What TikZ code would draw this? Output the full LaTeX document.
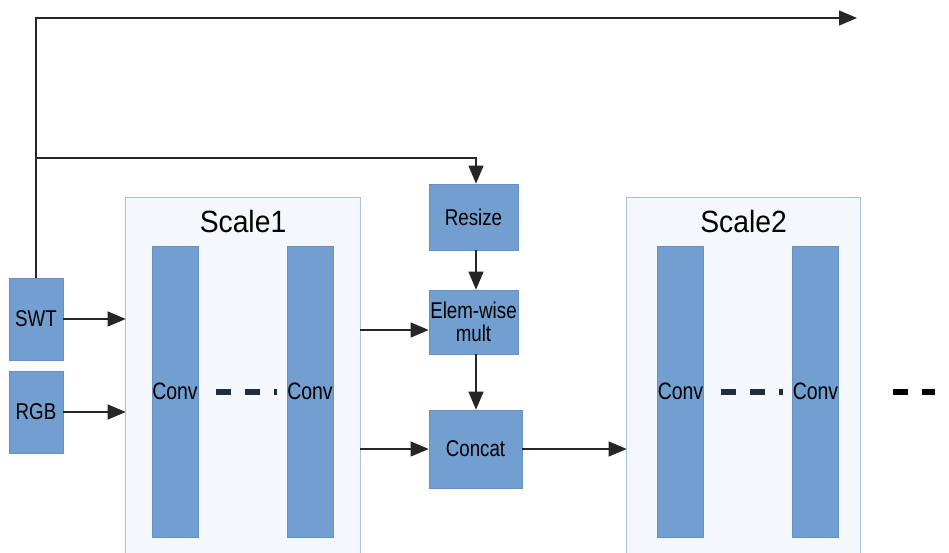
\documentclass[tikz,border=0pt]{standalone}
\usepackage{fontspec}
\setmainfont{Liberation Sans}[FakeStretch=0.92]
\newfontfamily\narrowfont{Liberation Sans}[FakeStretch=0.82]
\usetikzlibrary{arrows.meta,calc}

\begin{document}
\begin{tikzpicture}[x=0.02cm,y=-0.02cm,
    bloque/.style={draw=boxedge,fill=boxcolor,inner sep=0pt,align=center,
        font=\narrowfont\fontsize{13}{13}\selectfont},
    conv/.style={bloque,minimum width=0.92cm,minimum height=5.82cm,
        font=\narrowfont\fontsize{13.5}{14}\selectfont},
    escala/.style={fill=scalecolor,draw=none,inner sep=0pt,minimum height=7.1cm},
    titulo/.style={font=\fontsize{17.5}{20}\selectfont},
    flecha/.style={draw=linecolor,line width=0.6pt,-{Triangle[length=3.6mm,width=3mm]}},
    puntos/.style={line width=0.14cm,dash pattern=on 0.3cm off 0.28cm}]
    % Colores
    \definecolor{boxcolor}{HTML}{729FCF}
    \definecolor{boxedge}{HTML}{6391C6}
    \definecolor{scalecolor}{HTML}{F4F8FC}
    \definecolor{scaleedge}{HTML}{A7C1E2}
    \definecolor{dashcolor}{HTML}{1F2D3D}
    \colorlet{linecolor}{black!85}

    \useasboundingbox (0,0) rectangle (949,553);

    % Bloques de escala
    \node[escala,minimum width=4.68cm] (sA) at (243,375.5) {};
    \node[escala,minimum width=4.66cm] (sB) at (743.5,375.5) {};
    \foreach \s in {sA,sB}
    {
        \draw[scaleedge,line width=0.6pt] (\s.south west) -- (\s.north west)
            -- (\s.north east) -- (\s.south east);
    }
    \node[titulo] (tA) at (243,222) {Scale1};
    \node[titulo] (tB) at (743.5,222) {Scale2};

    % Capas de convolucion
    \foreach \x/\n in {175/a1,310/a2,680.5/b1,815.5/b2}
    {
        \node[conv] (conv\n) at (\x,391.5) {Conv};
    }
    \draw[puntos,dashcolor] (216,392) -- (277,392);
    \draw[puntos,dashcolor] (721,392) -- (783,392);
    \draw[puntos,black] (893,392) -- (935,392);

    % Entradas
    \node[bloque,minimum width=1.08cm,minimum height=1.64cm] (swt) at (36,319) {SWT};
    \node[bloque,minimum width=1.08cm,minimum height=1.64cm] (rgb) at (36,412) {RGB};

    % Bloques intermedios
    \node[bloque,minimum width=1.78cm,minimum height=1.32cm] (resize) at (473.5,217) {Resize};
    \node[bloque,minimum width=1.78cm,minimum height=1.28cm] (mult) at (473.5,322) {Elem-wise\\mult};
    \node[bloque,minimum width=1.86cm,minimum height=1.56cm] (concat) at (475.5,449) {Concat};

    % Conexiones
    \coordinate (salida) at (857,18);
    \coordinate (codo) at (36,158);
    \coordinate (m_in) at ([yshift=-1.6mm]mult.west);
    \draw[flecha] (swt.north) |- (salida);
    \draw[flecha] (codo) -| ([xshift=0.5mm]resize.north);
    \draw[flecha] (swt) -- (swt -| sA.west);
    \draw[flecha] (rgb) -- (rgb -| sA.west);
    \draw[flecha] (m_in -| sA.east) -- (m_in);
    \draw[flecha] (concat -| sA.east) -- (concat);
    \draw[flecha] ([xshift=0.5mm]resize.south) -- ([xshift=0.5mm]mult.north);
    \draw[flecha] ([xshift=0.5mm]mult.south) -- ([xshift=0.5mm]mult.south |- concat.north);
    \draw[flecha] (concat) -- (concat -| sB.west);

\end{tikzpicture}
\end{document}
